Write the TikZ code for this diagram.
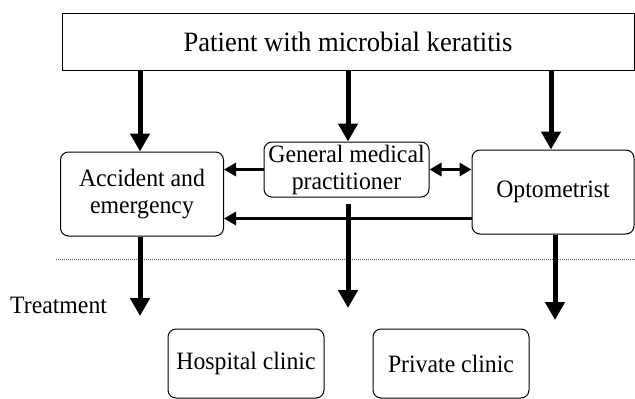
\documentclass[tikz,border=0pt]{standalone}
\usepackage{fontspec}
\setmainfont[FakeStretch=0.95]{Liberation Serif}
\usetikzlibrary{arrows.meta,positioning}

\begin{document}
\begin{tikzpicture}[x=1pt, y=-1pt,
      texto/.style={font=\fontsize{25}{27}\selectfont},
      caja/.style={rectangle, rounded corners=8pt, draw, line width=1pt,
                   align=center, inner sep=0pt, texto},
      titulo/.style={rectangle, draw, line width=1pt, inner sep=0pt,
                     font=\fontsize{28}{30}\selectfont},
      flecha/.style={-{Triangle[length=18pt,width=19pt]}, line width=5pt},
      flechita/.style={-{Triangle[length=12pt,width=13pt]}, line width=3pt},
      doble/.style={{Triangle[length=12pt,width=13pt]}-{Triangle[length=12pt,width=13pt]}, line width=3pt}]

    \useasboundingbox (0,0) rectangle (635,399);

    \node[titulo, minimum width=572pt, minimum height=57pt] (pac) at (348,41.5) {Patient with microbial keratitis};
    \node[caja, minimum width=163pt, minimum height=84pt] (ae) at (142,194) {Accident and\\emergency};
    \node[caja, minimum width=165pt, minimum height=55pt] (gmp) at (346.5,169.5) {General medical\\practitioner};
    \node[caja, minimum width=162pt, minimum height=84pt] (opt) at (553,192) {Optometrist};
    \node[caja, minimum width=156pt, minimum height=69pt] (hosp) at (246,363.5) {Hospital clinic};
    \node[caja, minimum width=156pt, minimum height=69pt, right=48pt of hosp] (priv) {Private clinic};
    \node[texto, anchor=west, inner sep=0pt] (trat) at (10,305) {Treatment};

    % bajadas hacia el tratamiento
    \coordinate (gsal) at ([yshift=-6pt]gmp.south);
    \coordinate (t1) at (140,316);
    \coordinate (t2) at (348,308);
    \coordinate (t3) at (555,320);
    \coordinate (lin1) at (56,259.5);
    \coordinate (lin2) at (635,259.5);

    \draw[line width=1pt, densely dotted, gray!70!black] (lin1) -- (lin2);

    \draw[flecha] (pac.south -| t1) -- (ae.north -| t1);
    \draw[flecha] (pac.south -| t2) -- (gmp.north -| t2);
    \draw[flecha] (pac.south -| 551,0) -- (opt.north -| 551,0);

    \draw[flechita] (gmp.west) -- (ae.east |- gmp.west);
    \draw[doble] (gmp.east) -- (opt.west |- gmp.east);
    \draw[flechita] ([yshift=16pt]opt.south west) -- ([yshift=16pt]opt.south west -| ae.east);

    \draw[flecha] (ae.south -| t1) -- (t1);
    \draw[flecha] (gsal -| t2) -- (t2);
    \draw[flecha] (opt.south -| t3) -- (t3);
  \end{tikzpicture}
\end{document}
